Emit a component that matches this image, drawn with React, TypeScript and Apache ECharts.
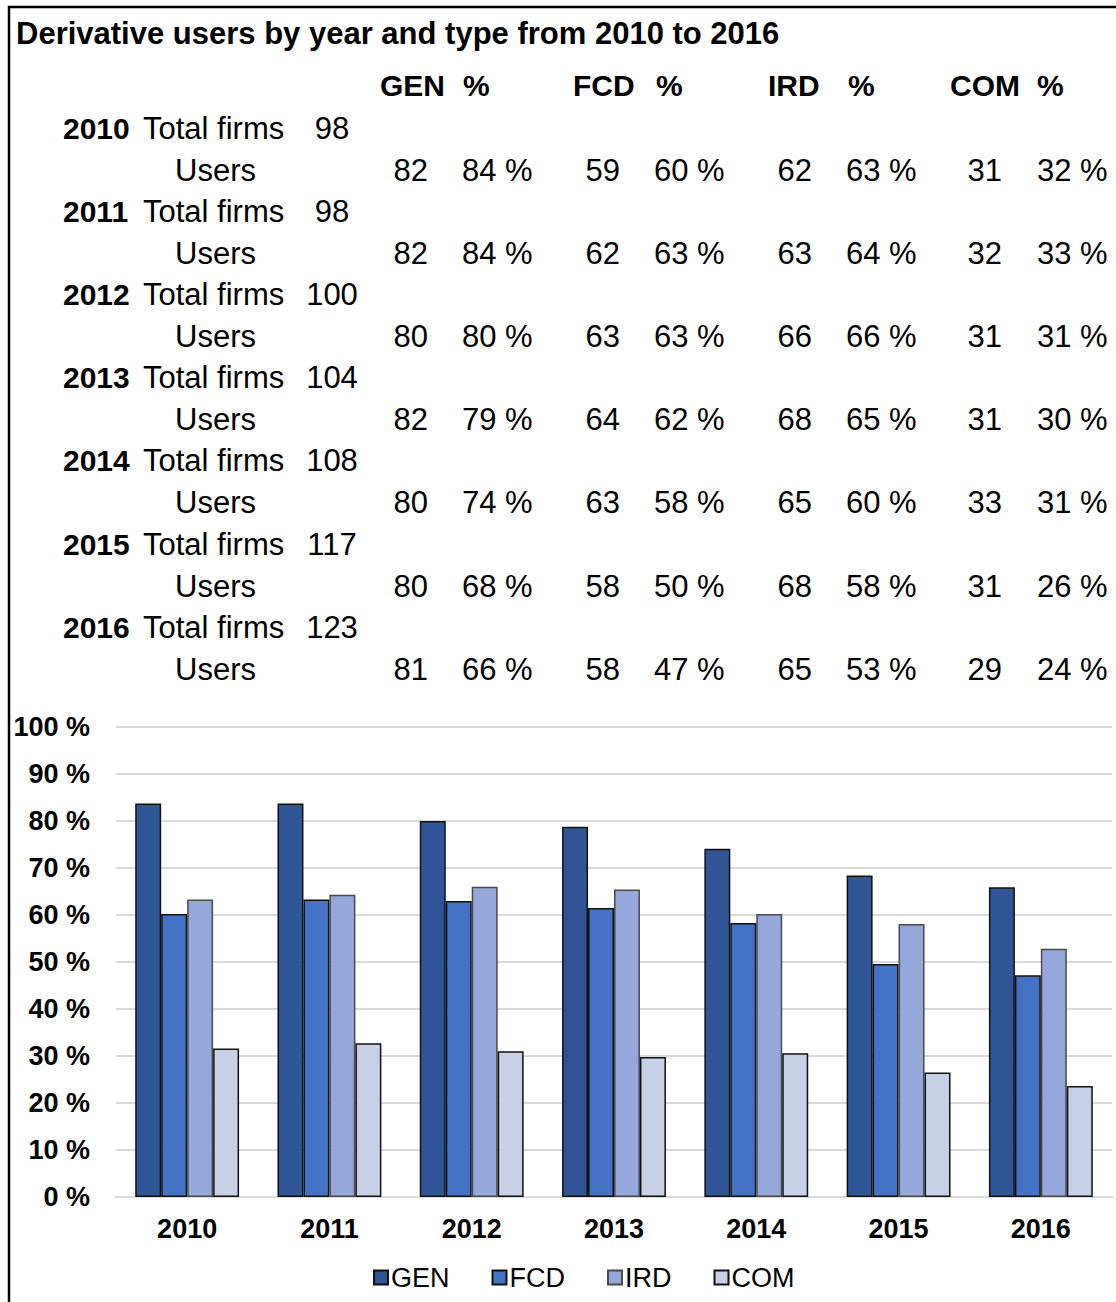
import React, { useEffect, useRef } from "react";
import * as echarts from "echarts";

const title = "Derivative users by year and type from 2010 to 2016";
const years = ["2010", "2011", "2012", "2013", "2014", "2015", "2016"];
const typeNames = ["GEN", "FCD", "IRD", "COM"];
const totalFirms = [98, 98, 100, 104, 108, 117, 123];
const genUsers = [82, 82, 80, 82, 80, 80, 81];
const fcdUsers = [59, 62, 63, 64, 63, 58, 58];
const irdUsers = [62, 63, 66, 68, 65, 68, 65];
const comUsers = [31, 32, 31, 31, 33, 31, 29];
const genPct = [84, 84, 80, 79, 74, 68, 66];
const fcdPct = [60, 63, 63, 62, 58, 50, 47];
const irdPct = [63, 64, 66, 65, 60, 58, 53];
const comPct = [32, 33, 31, 30, 31, 26, 24];
// bar heights (percent)
const genShare = [83.7, 83.7, 80.0, 78.8, 74.1, 68.4, 65.9];
const fcdShare = [60.2, 63.3, 63.0, 61.5, 58.3, 49.6, 47.2];
const irdShare = [63.3, 64.3, 66.0, 65.4, 60.2, 58.1, 52.8];
const comShare = [31.6, 32.7, 31.0, 29.8, 30.6, 26.5, 23.6];

const colors = ["#2F5597", "#4472C4", "#95A8DB", "#C8D0E8"];
const borders = ["#111111", "#111111", "#4a4a4a", "#111111"];

const FONT = "Liberation Sans, Arial, sans-serif";

function txt(text: string, x: number, y: number, opts: any = {}) {
  const align = opts.align || "left";
  return {
    type: "text",
    x,
    y,
    silent: true,
    style: {
      text,
      fill: "#000",
      font: `${opts.bold ? "bold " : ""}${opts.size || 31}px ${FONT}`,
      textAlign: align,
      align,
      textVerticalAlign: "middle",
      verticalAlign: "middle",
    },
  };
}

export default function App() {
  const ref = useRef<HTMLDivElement>(null);
  useEffect(() => {
    if (!ref.current) return;
    const chart = echarts.init(ref.current, null, { renderer: "svg" });

    const users = [genUsers, fcdUsers, irdUsers, comUsers];
    const pcts = [genPct, fcdPct, irdPct, comPct];
    const shares = [genShare, fcdShare, irdShare, comShare];

    const headerX = [
      [380, 463],
      [573, 656],
      [768, 848],
      [950, 1037],
    ];
    const numRight = [428, 620, 812, 1002];
    const pctLeft = [462, 654, 846, 1037];

    const graphics: any[] = [];
    graphics.push({
      type: "rect",
      silent: true,
      shape: { x: 9, y: 7, width: 1300, height: 1400 },
      style: { fill: "none", stroke: "#000", lineWidth: 2.5 },
    });
    graphics.push(txt(title, 16, 33, { bold: true, size: 31 }));
    typeNames.forEach((n, k) => {
      graphics.push(txt(n, headerX[k][0], 85, { bold: true, size: 30 }));
      graphics.push(txt("%", headerX[k][1], 85, { bold: true, size: 30 }));
    });
    const rowStep = 83.2;
    years.forEach((yr, i) => {
      const y1 = 128 + i * rowStep;
      const y2 = 170 + i * rowStep;
      graphics.push(txt(yr, 63, y1, { bold: true, size: 30 }));
      graphics.push(txt("Total firms", 143, y1));
      graphics.push(txt(String(totalFirms[i]), 332, y1, { align: "center" }));
      graphics.push(txt("Users", 175, y2));
      for (let k = 0; k < 4; k++) {
        graphics.push(txt(String(users[k][i]), numRight[k], y2, { align: "right" }));
        graphics.push(txt(`${pcts[k][i]} %`, pctLeft[k], y2));
      }
    });

    chart.setOption({
      animation: false,
      grid: { left: 116, right: 4, top: 727, bottom: 105, containLabel: false },
      legend: {
        left: 368,
        top: 1259,
        icon: "rect",
        itemWidth: 14,
        itemHeight: 14,
        itemGap: 42,
        textStyle: { fontFamily: FONT, fontSize: 27, color: "#000", padding: [0, 0, 0, -2] },
        data: typeNames,
      },
      xAxis: {
        type: "category",
        data: years,
        axisLine: { show: true, lineStyle: { color: "#d9d9d9", width: 2 } },
        axisTick: { show: false },
        axisLabel: {
          margin: 18,
          fontFamily: FONT,
          fontSize: 27,
          fontWeight: "bold",
          color: "#000",
        },
      },
      yAxis: {
        type: "value",
        min: 0,
        max: 100,
        interval: 10,
        axisLine: { show: false },
        axisTick: { show: false },
        splitLine: { lineStyle: { color: "#d9d9d9", width: 2 } },
        axisLabel: {
          margin: 26,
          formatter: "{value} %",
          fontFamily: FONT,
          fontSize: 27,
          fontWeight: "bold",
          color: "#000",
        },
      },
      series: typeNames.map((n, k) => ({
        name: n,
        type: "bar",
        data: shares[k],
        barGap: "0%",
        barCategoryGap: "27%",
        itemStyle: {
          color: colors[k],
          borderColor: borders[k],
          borderWidth: 1.5,
        },
      })),
      graphic: graphics,
    });
    return () => chart.dispose();
  }, []);
  return (
    <div
      ref={ref}
      style={{ position: "absolute", left: 0, top: 0, width: 1116, height: 1302, background: "#fff" }}
    />
  );
}
